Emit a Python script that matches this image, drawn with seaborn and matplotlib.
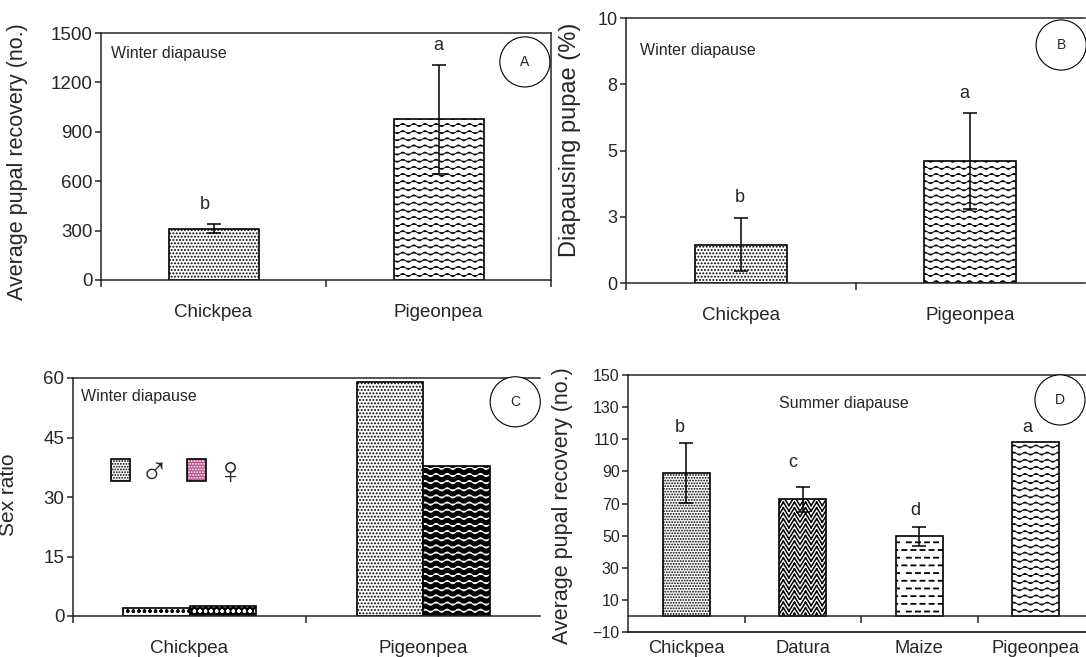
import warnings
warnings.filterwarnings("ignore")
import numpy as np
import pandas as pd
import matplotlib
matplotlib.use("Agg")
import matplotlib.pyplot as plt
import matplotlib.hatch as mhatch
from matplotlib.path import Path
from matplotlib.patches import Patch
from matplotlib.colors import to_rgba
from matplotlib import font_manager
import seaborn as sns

# ---------------- data ----------------
crops_w = ["Chickpea", "Pigeonpea"]
pupal_w = [312, 975]
pupal_w_err = [28, 330]
pupal_w_letters = ["b", "a"]

diap_w = [1.45, 4.6]
diap_w_err = [1.0, 1.8]
diap_w_letters = ["b", "a"]
diap_ticks = [0, 2.5, 5, 7.5, 10]
diap_ticklabels = ["0", "3", "5", "8", "10"]

sex_crops = ["Chickpea", "Chickpea", "Pigeonpea", "Pigeonpea"]
sex_kind = ["male", "female", "male", "female"]
sex_ratio = [2.0, 2.5, 59.0, 37.7]

crops_s = ["Chickpea", "Datura", "Maize", "Pigeonpea"]
pupal_s = [89, 72.5, 49.5, 108]
pupal_s_err = [18.5, 7.5, 6.0, np.nan]
pupal_s_letters = ["b", "c", "d", "a"]

# ---------------- custom hatches ----------------
class WaveHatch(mhatch.HatchPatternBase):
    def __init__(self, hatch, density):
        n = hatch.count('~')
        self.rows = 7 * n
        self.periods = 9
        self.pts = self.periods * 8 + 1
        self.num_vertices = self.rows * self.pts if n else 0

    def set_vertices_and_codes(self, vertices, codes):
        xs = np.linspace(0, 1, self.pts)
        amp = 0.22 / self.rows
        for r in range(self.rows):
            y0 = (r + 0.5) / self.rows
            sl = slice(r * self.pts, (r + 1) * self.pts)
            vertices[sl, 0] = xs
            vertices[sl, 1] = y0 + amp * np.sin(2 * np.pi * self.periods * xs)
            codes[sl] = Path.LINETO
            codes[r * self.pts] = Path.MOVETO


class HerringHatch(mhatch.HatchPatternBase):
    def __init__(self, hatch, density):
        n = hatch.count('z')
        self.nc = 18 * n
        self.nr = 18 * n
        self.num_vertices = self.nc * (self.nr + 2) * 2 if n else 0

    def set_vertices_and_codes(self, v, c):
        w = 1.0 / self.nc
        h = 1.0 / self.nr
        k = 0
        for i in range(self.nc):
            for j in range(-2, self.nr):
                x0, y0 = i * w, j * h
                if i % 2 == 0:
                    v[k] = (x0, y0); v[k + 1] = (x0 + w, y0 + 1.6 * h)
                else:
                    v[k] = (x0, y0 + 1.6 * h); v[k + 1] = (x0 + w, y0)
                c[k] = Path.MOVETO; c[k + 1] = Path.LINETO
                k += 2


class DashHatch(mhatch.HatchPatternBase):
    def __init__(self, hatch, density):
        n = hatch.count('d')
        self.rows = 13 * n
        self.nd = 11
        self.num_vertices = self.rows * self.nd * 2 if n else 0

    def set_vertices_and_codes(self, v, c):
        k = 0
        for r in range(self.rows):
            y = (r + 0.5) / self.rows
            off = 0.5 / self.nd if r % 2 else 0.0
            for d in range(self.nd):
                x0 = (d + 0.25) / self.nd + off
                x0 = x0 % 1.0
                v[k] = (x0, y); v[k + 1] = (min(x0 + 0.45 / self.nd, 1.0), y)
                c[k] = Path.MOVETO; c[k + 1] = Path.LINETO
                k += 2


mhatch._hatch_types.extend([WaveHatch, HerringHatch, DashHatch])

# ---------------- style ----------------
sns.set_style("ticks")
plt.rcParams['font.family'] = ['Liberation Sans', 'DejaVu Sans']
plt.rcParams['hatch.linewidth'] = 0.9
plt.rcParams['axes.linewidth'] = 1.1

def has_font(name):
    try:
        font_manager.findfont(font_manager.FontProperties(family=name), fallback_to_default=False)
        return True
    except Exception:
        return False

if has_font('Liberation Sans Narrow'):
    NOTE_FONT = dict(family=['Liberation Sans Narrow', 'Liberation Sans'], fontsize=13.5)
else:
    NOTE_FONT = dict(family=['Liberation Sans'], fontsize=11.5)

W, H = 1086, 657
fig = plt.figure(figsize=(W / 100, H / 100), dpi=100)

def px_axes(l, t, r, b):
    return fig.add_axes([l / W, (H - b) / H, (r - l) / W, (b - t) / H])

def style_patch(p, hatch, face='white', hcolor='black', hlw=None):
    p.set_facecolor(face)
    p.set_edgecolor('black')
    p.set_linewidth(1.2)
    p.set_hatch(hatch)
    if hasattr(p, 'set_hatchcolor'):
        p.set_hatchcolor(hcolor)
    else:
        p._hatch_color = to_rgba(hcolor)
    if hlw is not None and hasattr(p, 'set_hatch_linewidth'):
        p.set_hatch_linewidth(hlw)

def circle_label(ax, letter, x, y):
    ax.text(x, y, letter, transform=ax.transAxes, ha='center', va='center', fontsize=10,
            bbox=dict(boxstyle='circle,pad=1.3', fc='white', ec='black', lw=0.8))

def cat_axis(ax, n, bounds, labelsize, pad):
    ax.set_xlim(-0.5, n - 0.5 if bounds is None else bounds)
    ax.set_xticks(range(n))
    ax.tick_params(axis='x', which='major', length=0, labelsize=labelsize, pad=pad)
    ax.tick_params(axis='x', which='minor', length=5, width=1.1, direction='out')
    ax.tick_params(axis='y', which='major', length=4, width=1.1, direction='out', pad=2)
    ax.set_xlabel('')

def annotate_letters(ax, tops, letters, dys, dxs=None):
    for i, (t, l) in enumerate(zip(tops, letters)):
        dx = 0 if dxs is None else dxs[i]
        ax.annotate(l, xy=(i, t), xytext=(dx, dys[i]), textcoords='offset points',
                    ha='center', va='center', fontsize=13)

WAVE_LW = 0.6

# ---------------- Panel A ----------------
axA = px_axes(101, 33, 551, 280)
sns.barplot(x=crops_w, y=pupal_w, ax=axA, width=0.4, errorbar=None)
style_patch(axA.patches[0], '.....')
style_patch(axA.patches[1], '~~', hlw=WAVE_LW)
axA.errorbar(range(len(crops_w)), pupal_w, yerr=pupal_w_err, fmt='none', ecolor='black',
             elinewidth=1.1, capsize=5, capthick=1.1)
axA.set_ylim(0, 1500)
axA.set_yticks(range(0, 1501, 300))
cat_axis(axA, 2, 1.5, 13.5, 17)
axA.set_xticks([-0.5, 0.5, 1.5], minor=True)
axA.tick_params(axis='y', labelsize=13.5)
axA.set_ylabel('Average pupal recovery (no.)', fontsize=15.5)
axA.yaxis.set_label_coords(-0.162, 0.478)
tops = [v + e for v, e in zip(pupal_w, pupal_w_err)]
annotate_letters(axA, tops, pupal_w_letters, [14, 14], [-6, 0])
axA.text(0.022, 0.919, 'Winter diapause', transform=axA.transAxes, ha='left', va='center', **NOTE_FONT)
circle_label(axA, 'A', 0.942, 0.883)

# ---------------- Panel B ----------------
axB = px_axes(626, 18, 1085, 283)
sns.barplot(x=crops_w, y=diap_w, ax=axB, width=0.4, errorbar=None)
style_patch(axB.patches[0], '.....')
style_patch(axB.patches[1], '~~', hlw=WAVE_LW)
axB.errorbar(range(len(crops_w)), diap_w, yerr=diap_w_err, fmt='none', ecolor='black',
             elinewidth=1.1, capsize=5, capthick=1.1)
axB.set_ylim(0, 10)
axB.set_yticks(diap_ticks)
axB.set_yticklabels(diap_ticklabels)
cat_axis(axB, 2, 1.5, 13.5, 17)
axB.set_xticks([-0.5, 0.5], minor=True)
axB.tick_params(axis='y', labelsize=13)
axB.spines['right'].set_visible(False)
axB.set_ylabel('Diapausing pupae (%)', fontsize=17)
axB.yaxis.set_label_coords(-0.098, 0.54)
tops = [v + e for v, e in zip(diap_w, diap_w_err)]
annotate_letters(axB, tops, diap_w_letters, [15, 14], [-1, -4])
axB.text(0.03, 0.879, 'Winter diapause', transform=axB.transAxes, ha='left', va='center', **NOTE_FONT)
circle_label(axB, 'B', 0.948, 0.898)

# ---------------- Panel C ----------------
axC = px_axes(72.7, 378, 540, 616)
dfC = pd.DataFrame({'crop': sex_crops, 'sex': sex_kind, 'ratio': sex_ratio})
sns.barplot(data=dfC, x='crop', y='ratio', hue='sex', hue_order=['male', 'female'], ax=axC,
            width=0.57, errorbar=None, legend=False, palette=['white', 'black'])
styles = {('Chickpea', 'male'): ('ooo', 'white', 'black', 0.9),
          ('Chickpea', 'female'): ('ooo', 'black', 'white', 0.9),
          ('Pigeonpea', 'male'): ('.....', 'white', 'black', 0.9),
          ('Pigeonpea', 'female'): ('~~', 'black', 'white', 0.8)}
for p in axC.patches:
    cx = p.get_x() + p.get_width() / 2
    ci = int(round(cx))
    kind = 'male' if cx < ci else 'female'
    h, fc, hc, lw = styles[(crops_w[ci], kind)]
    style_patch(p, h, fc, hc, hlw=lw)
axC.set_ylim(0, 60)
axC.set_yticks(range(0, 61, 15))
cat_axis(axC, 2, 1.5, 13.5, 17)
axC.set_xticks([-0.5, 0.5], minor=True)
axC.tick_params(axis='y', labelsize=13.5)
axC.spines['right'].set_visible(False)
axC.set_ylabel('Sex ratio', fontsize=15)
axC.yaxis.set_label_coords(-0.117, 0.51)
axC.text(0.018, 0.924, 'Winter diapause', transform=axC.transAxes, ha='left', va='center', **NOTE_FONT)
circle_label(axC, 'C', 0.947, 0.90)
hm = Patch(facecolor='white', edgecolor='black', hatch='......', linewidth=1.2)
hf = Patch(facecolor='#b4508a', edgecolor='black', hatch='......', linewidth=1.2)
if hasattr(hf, 'set_hatchcolor'):
    hf.set_hatchcolor('white')
else:
    hf._hatch_color = to_rgba('white')
leg = axC.legend([hm, hf], ['\u2642', '\u2640'], ncol=2, frameon=False, loc='upper left',
                 bbox_to_anchor=(0.04, 0.755), borderpad=0, handlelength=0.5, handleheight=0.5,
                 handletextpad=0.25, columnspacing=0.45, prop=dict(size=28))

# ---------------- Panel D ----------------
axD = px_axes(628, 375, 1094, 632)
sns.barplot(x=crops_s, y=pupal_s, ax=axD, width=0.4, errorbar=None)
style_patch(axD.patches[0], '......')
style_patch(axD.patches[1], 'z', hlw=1.1)
style_patch(axD.patches[2], 'd', hlw=1.3)
style_patch(axD.patches[3], '~~', hlw=WAVE_LW)
err = np.array(pupal_s_err, dtype=float)
ok = ~np.isnan(err)
xs = np.arange(len(crops_s))
axD.errorbar(xs[ok], np.array(pupal_s)[ok], yerr=err[ok], fmt='none', ecolor='black',
             elinewidth=1.1, capsize=5, capthick=1.1)
axD.set_ylim(-10, 150)
axD.set_yticks(range(-10, 151, 20))
axD.set_xlim(-0.5, 3.5)
axD.set_xticks(range(len(crops_s)))
axD.set_xticks([0.5, 1.5, 2.5], minor=True)
axD.spines['bottom'].set_position(('data', 0))
axD.spines['right'].set_visible(False)
axD.axhline(-10, color='black', lw=1.1, clip_on=False, zorder=5)
axD.tick_params(axis='x', which='major', length=0, labelsize=13.2, pad=17)
axD.tick_params(axis='x', which='minor', length=5, width=1.1, direction='out')
axD.tick_params(axis='y', which='major', length=4, width=1.1, direction='out', labelsize=11.5, pad=2)
axD.set_ylabel('Average pupal recovery (no.)', fontsize=15.5)
axD.yaxis.set_label_coords(-0.118, 0.49)
tops = [v + (0 if np.isnan(e) else e) for v, e in zip(pupal_s, pupal_s_err)]
annotate_letters(axD, tops, pupal_s_letters, [11, 18, 12, 11], [-5, -7, -3, -6])
axD.text(0.464, 0.891, 'Summer diapause', transform=axD.transAxes, ha='center', va='center', **NOTE_FONT)
circle_label(axD, 'D', 0.927, 0.903)

fig.savefig('out.png', dpi=100)
